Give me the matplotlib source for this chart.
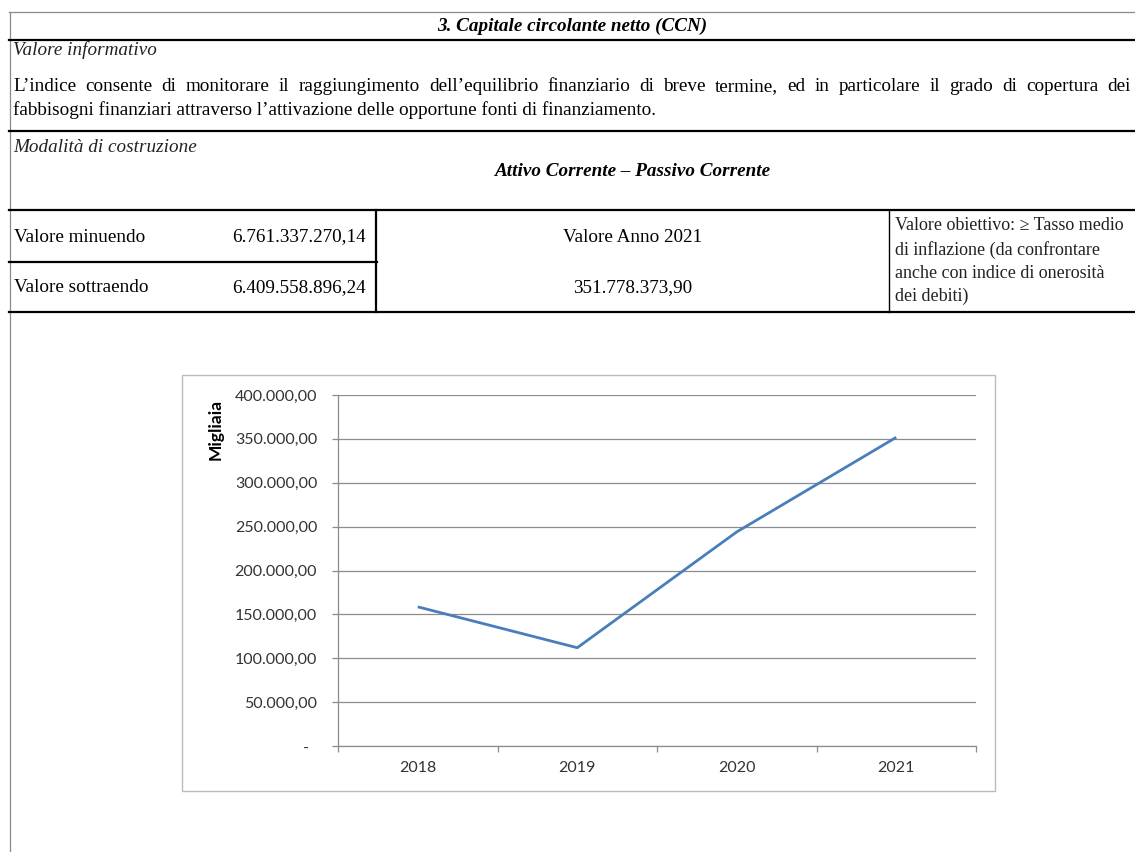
import matplotlib
matplotlib.use('Agg')
import matplotlib.pyplot as plt
from matplotlib.ticker import FixedLocator, FuncFormatter

# chart data (values in thousands, "Migliaia")
years = ['2018', '2019', '2020', '2021']
ccn = [158600, 112000, 244000, 351778]
y_ticks = [0, 50000, 100000, 150000, 200000, 250000, 300000, 350000, 400000]

# table texts
title = '3. Capitale circolante netto (CCN)'
info_head = 'Valore informativo'
info_line1 = ('L’indice consente di monitorare il raggiungimento dell’equilibrio finanziario '
              'di breve termine, ed in particolare il grado di copertura dei')
info_line2 = 'fabbisogni finanziari attraverso l’attivazione delle opportune fonti di finanziamento.'
build_head = 'Modalità di costruzione'
formula = 'Attivo Corrente – Passivo Corrente'
row_labels = ['Valore minuendo', 'Valore sottraendo']
row_values = ['6.761.337.270,14', '6.409.558.896,24']
year_label = 'Valore Anno 2021'
year_value = '351.778.373,90'
target_lines = ['Valore obiettivo: ≥ Tasso medio', 'di inflazione (da confrontare',
                'anche con indice di onerosità', 'dei debiti)']

W, H = 1135, 852
fig = plt.figure(figsize=(W / 100, H / 100), dpi=100)
fig.patch.set_facecolor('white')

# overlay in pixel coordinates for the table
page = fig.add_axes([0, 0, 1, 1])
page.set_xlim(0, W)
page.set_ylim(H, 0)
page.axis('off')

serif = 'Liberation Serif'
fs = 13.8

# borders
page.plot([9.5, 9.5], [12, H], color='#8a8a8a', lw=0.9)
page.plot([9, W], [12, 12], color='#8a8a8a', lw=0.9)
for y in [40, 131, 210, 312]:
    page.plot([9, W], [y, y], color='black', lw=1.6)
page.plot([9, 377], [262, 262], color='black', lw=1.6)
page.plot([376, 376], [210, 312], color='black', lw=1.6)
page.plot([889, 889], [210, 312], color='black', lw=1.0)

page.text(572, 26, title, family=serif, size=fs, style='italic', weight='bold',
          ha='center', va='center')
page.text(13, 50, info_head, family=serif, size=fs, style='italic', va='center',
          color='#222222')

# justified first line: measure each word, then spread the gaps evenly
words = info_line1.split()
r = fig.canvas.get_renderer()
widths = []
for w in words:
    t = page.text(0, 0, w, family=serif, size=fs)
    widths.append(t.get_window_extent(r).width)
    t.remove()
gap = (1131 - 13 - sum(widths)) / (len(words) - 1)
x = 13
for w, wd in zip(words, widths):
    page.text(x, 91, w, family=serif, size=fs, va='baseline', ha='left')
    x += wd + gap

page.text(13, 110, info_line2, family=serif, size=fs, va='center')
page.text(13, 147, build_head, family=serif, size=fs, style='italic', va='center',
          color='#222222')
page.text(633, 172, formula, family=serif, size=fs, style='italic', weight='bold',
          ha='center', va='center')

for lab, val, y in zip(row_labels, row_values, [237, 288]):
    page.text(14, y, lab, family=serif, size=fs, va='center')
    page.text(366, y, val, family=serif, size=fs, va='center', ha='right')

page.text(633, 237, year_label, family=serif, size=fs, ha='center', va='center')
page.text(633, 288, year_value, family=serif, size=fs, ha='center', va='center')

for i, line in enumerate(target_lines):
    page.text(895, 226 + i * 23.6, line, family=serif, size=13.0, va='center',
              color='#222222')

# chart frame
page.add_patch(plt.Rectangle((182, 375), 813, 416, fill=False, edgecolor='#bcbcbc', lw=1.0))

# chart
sans = 'Lato'
grid_c = '#8c8c8c'
ax = fig.add_axes([338 / W, 1 - 746 / H, 638 / W, (746 - 395) / H])
xs = list(range(1, len(years) + 1))
ax.plot(xs, ccn, color='#4a7ebb', lw=2.0, solid_capstyle='butt')
ax.set_xlim(0.5, len(years) + 0.5)
ax.set_ylim(0, 400000)

ax.set_yticks(y_ticks)


def it_fmt(v, pos):
    if v == 0:
        return '-  '
    s = f'{v:,.2f}'
    return s.replace(',', 'X').replace('.', ',').replace('X', '.')


ax.yaxis.set_major_formatter(FuncFormatter(it_fmt))
ax.yaxis.grid(True, color=grid_c, lw=0.9)
ax.set_axisbelow(True)

ax.xaxis.set_major_locator(FixedLocator([x - 0.5 for x in xs] + [len(xs) + 0.5]))
ax.xaxis.set_major_formatter(FuncFormatter(lambda v, p: ''))
ax.xaxis.set_minor_locator(FixedLocator(xs))
ax.set_xticklabels(years, minor=True)
ax.tick_params(axis='x', which='minor', length=0, pad=11, labelsize=11.5, labelcolor='#333333')
ax.tick_params(axis='x', which='major', length=4, color=grid_c, width=0.9)
ax.tick_params(axis='y', length=4, color=grid_c, width=0.9, pad=11, labelsize=11.5,
               labelcolor='#333333')
for lab in ax.get_xticklabels(minor=True) + ax.get_yticklabels():
    lab.set_family(sans)

for s in ['top', 'right']:
    ax.spines[s].set_visible(False)
for s in ['left', 'bottom']:
    ax.spines[s].set_color(grid_c)
    ax.spines[s].set_linewidth(0.9)

page.text(216, 429, 'Migliaia', family=sans, size=12.5, weight='bold', rotation=90,
          ha='center', va='center')

fig.savefig('out.png', dpi=100, facecolor='white')
